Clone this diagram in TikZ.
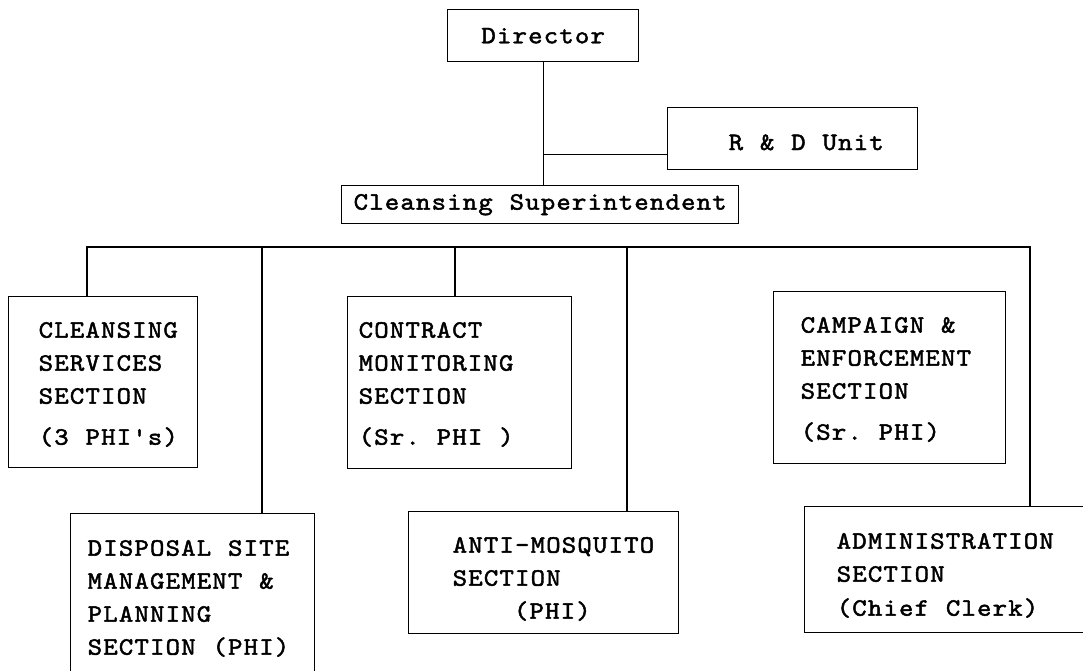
\documentclass[tikz,border=0pt]{standalone}
\usepackage{fontspec}
\newfontfamily\tw{lmmono10-regular.otf}[FakeStretch=1.1,LetterSpace=4.6,WordSpace=1.08,FakeBold=1.8]
\begin{document}
\frenchspacing
\begin{tikzpicture}[x=1pt,y=-1pt,line width=1.4pt,
  box/.style={draw,inner sep=0pt,anchor=north west,font=\fontsize{25}{33}\selectfont\tw},
  txt/.style={anchor=north west,inner sep=0pt,align=left,font=\fontsize{25}{33}\selectfont\tw},
  line/.style={anchor=base west,inner sep=0pt,font=\fontsize{25}{33}\selectfont\tw}]
\useasboundingbox (0,0) rectangle (1083,670);
\clip (0,0) rectangle (1083,670);
\fill[white] (0,0) rectangle (1083,670);
% boxes
\node[box,minimum width=191pt,minimum height=52pt] (dir) at (447,9) {Director};
\node[box,minimum width=250pt,minimum height=62pt] (rd) at (667,107) {};
\node[line] (rdt) at (728,150) {R \& D Unit};
\node[box,minimum width=397pt,minimum height=38pt] (sup) at (341,185) {Cleansing Superintendent};
\node[box,minimum width=189pt,minimum height=171pt] (cs) at (8,296) {};
\node[box,minimum width=224pt,minimum height=172pt] (con) at (347,296) {};
\node[box,minimum width=232pt,minimum height=172pt] (cam) at (773,291) {};
\node[box,minimum width=244pt,minimum height=160pt] (dsp) at (70,513) {};
\node[box,minimum width=270pt,minimum height=122pt] (anti) at (408,511) {};
\node[box,minimum width=300pt,minimum height=126pt] (adm) at (804,506) {};
% texts
\node[txt] (cst) at (38,313) {\rule{0pt}{24pt}CLEANSING\\SERVICES\\SECTION\\[8pt](3 PHI's)};
\node[txt] (cont) at (358,313) {\rule{0pt}{24pt}CONTRACT\\MONITORING\\SECTION\\[8pt](Sr. PHI )};
\node[txt] (camt) at (800,308) {\rule{0pt}{24pt}CAMPAIGN \&\\ENFORCEMENT\\SECTION\\[8pt](Sr. PHI)};
\node[txt] (dspt) at (87,531) {\rule{0pt}{24pt}DISPOSAL SITE\\MANAGEMENT \&\\PLANNING\\SECTION (PHI)};
\node[txt] (antit) at (452,528) {\rule{0pt}{24pt}ANTI-MOSQUITO\\SECTION\\\phantom{SECT}(PHI)};
\node[txt] (admt) at (836,524) {\rule{0pt}{24pt}ADMINISTRATION\\SECTION\\[1pt](Chief Clerk)};
% connectors
\draw (dir.south) -- (dir.south |- sup.north);
\coordinate (rdj) at ([yshift=16pt]rd.south west);
\draw (rdj) -- (rdj -| dir.south);
\coordinate (bL) at (87,247);
\coordinate (bR) at (1030,247);
\coordinate (b2) at (262,247);
\coordinate (b3) at (455,247);
\coordinate (b4) at (627,247);
\draw (bL |- cs.north) -- (bL) -- (bR) -- (bR |- adm.north);
\draw (b2) -- (b2 |- dsp.north);
\draw (b3) -- (b3 |- con.north);
\draw (b4) -- (b4 |- anti.north);
\end{tikzpicture}
\end{document}
